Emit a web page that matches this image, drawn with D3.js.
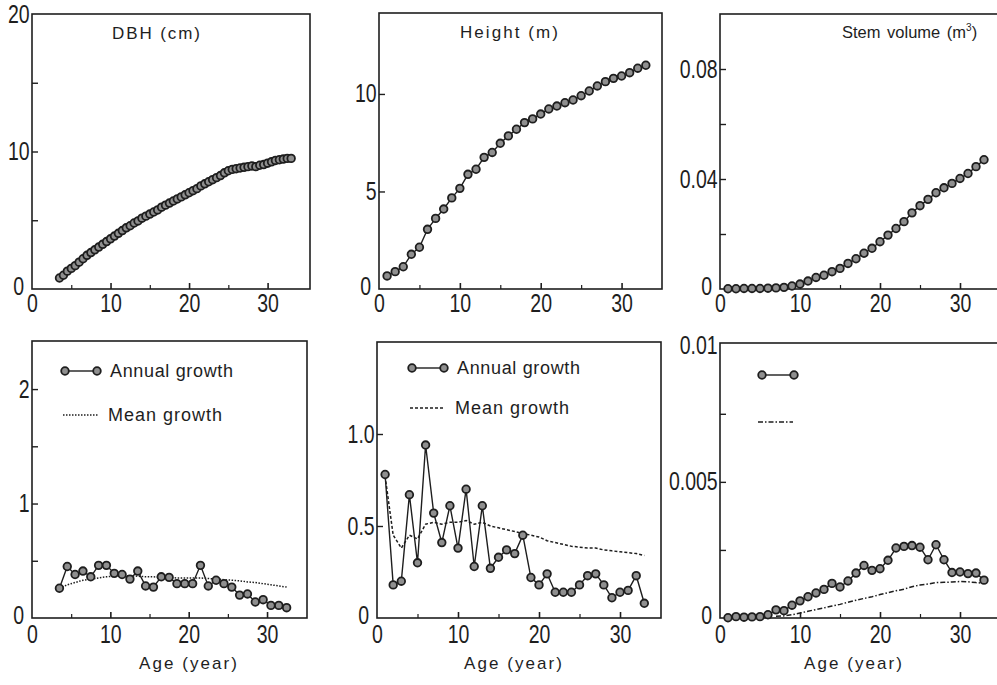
<!DOCTYPE html>
<html>
<head>
<meta charset="utf-8">
<script src="https://cdn.jsdelivr.net/npm/d3@7"></script>
<style>
body { margin: 0; background: #fff; }
</style>
</head>
<body>
<svg id="chart" width="997" height="685"></svg>
<script>
// ---- data ----
var years = [1,2,3,4,5,6,7,8,9,10,11,12,13,14,15,16,17,18,19,20,21,22,23,24,25,26,27,28,29,30,31,32,33];

// DBH (cm), measured every half year
var dbhAges = [3.5,4,4.5,5,5.5,6,6.5,7,7.5,8,8.5,9,9.5,10,10.5,11,11.5,12,12.5,13,13.5,14,14.5,15,15.5,16,16.5,17,17.5,18,
               18.5,19,19.5,20,20.5,21,21.5,22,22.5,23,23.5,24,24.5,25,25.5,26,26.5,27,27.5,28,28.5,29,29.5,30,30.5,31,31.5,32,32.5,33];
var dbhValues = [0.8,1.0,1.3,1.5,1.7,1.95,2.2,2.45,2.65,2.85,3.05,3.25,3.45,3.65,3.85,4.05,4.25,4.45,4.6,4.8,4.95,5.15,5.3,5.45,5.6,5.75,5.95,6.1,6.25,6.4,
                 6.55,6.7,6.85,7.0,7.15,7.3,7.5,7.65,7.8,7.95,8.1,8.25,8.45,8.6,8.7,8.75,8.8,8.85,8.9,8.95,8.9,9.0,9.05,9.15,9.25,9.35,9.4,9.45,9.5,9.5];

// height (m)
var heightValues = [0.67,0.89,1.14,1.78,2.14,3.06,3.62,4.1,4.67,5.16,5.88,6.14,6.75,7.0,7.47,7.85,8.19,8.53,8.72,8.97,9.23,9.38,9.55,9.69,9.91,10.15,10.41,10.63,10.8,10.92,11.09,11.32,11.47];

// stem volume (m3)
var volumeValues = [0.0001,0.0001,0.0002,0.0002,0.0002,0.0003,0.0004,0.0006,0.0011,0.0018,0.0029,0.0042,0.005,0.0063,0.0075,0.0093,0.011,0.013,0.0148,0.0172,0.0196,0.022,0.0245,0.0277,0.0303,0.0326,0.035,0.0368,0.0384,0.0402,0.042,0.0445,0.047];

// DBH growth
var dbhGrowthAges = [3.5,4.5,5.5,6.5,7.5,8.5,9.5,10.5,11.5,12.5,13.5,14.5,15.5,16.5,17.5,18.5,19.5,20.5,21.5,22.5,23.5,24.5,25.5,26.5,27.5,28.5,29.5,30.5,31.5,32.5];
var dbhAnnual = [0.26,0.45,0.38,0.41,0.36,0.46,0.46,0.39,0.38,0.34,0.41,0.28,0.27,0.36,0.355,0.30,0.30,0.30,0.46,0.28,0.33,0.30,0.27,0.20,0.21,0.14,0.16,0.11,0.11,0.09];
var dbhMean = [0.26,0.29,0.31,0.33,0.34,0.35,0.36,0.365,0.37,0.37,0.365,0.36,0.36,0.355,0.355,0.35,0.35,0.35,0.35,0.345,0.34,0.335,0.33,0.325,0.315,0.31,0.30,0.29,0.28,0.27];

// height growth
var heightAnnual = [0.78,0.18,0.20,0.67,0.30,0.94,0.57,0.41,0.61,0.38,0.70,0.28,0.61,0.27,0.33,0.37,0.35,0.45,0.22,0.18,0.24,0.14,0.14,0.14,0.18,0.23,0.24,0.18,0.11,0.14,0.15,0.23,0.08];
var heightMean = [0.77,0.45,0.38,0.45,0.43,0.51,0.52,0.51,0.52,0.52,0.53,0.51,0.52,0.50,0.49,0.48,0.47,0.46,0.45,0.44,0.42,0.41,0.40,0.39,0.385,0.38,0.38,0.37,0.365,0.36,0.355,0.35,0.34];

// volume growth
var volumeAnnual = [0.00001,0.00005,0.00003,0.00004,0.00005,0.00012,0.0003,0.00027,0.00047,0.00063,0.00078,0.00092,0.00105,0.00127,0.00114,0.00136,0.00165,
                    0.00193,0.00175,0.00181,0.00212,0.00257,0.00263,0.00266,0.0026,0.00214,0.00269,0.00214,0.00167,0.00169,0.00163,0.00165,0.00139];
var volumeMeanAges = [7,8,9,10,11,12,13,14,15,16,17,18,19,20,21,22,23,24,25,26,27,28,29,30,31,32,33];
var volumeMean = [0.00006,0.00008,0.00012,0.00018,0.00025,0.00031,0.00037,0.00044,0.0005,0.00058,0.00065,0.00072,0.00078,0.00086,0.00093,0.001,0.00106,
                  0.00115,0.00121,0.00125,0.0013,0.00131,0.00132,0.00134,0.00133,0.0013,0.00128];

// ticks
var xLabelTicks = [0, 10, 20, 30];
var xAllTicks = [5, 10, 15, 20, 25, 30];

var textFont = '"Liberation Sans", Arial, sans-serif';
var ink = "#1e1e1e";

var svg = d3.select("#chart");

function zip(a, b) { return a.map(function (v, i) { return [v, b[i]]; }); }

// tall narrow digits like the original typeface
function narrowLabels(sel) {
    sel.select(".domain").remove();
    sel.attr("font-family", textFont).attr("font-size", 25);
    sel.selectAll("text").attr("fill", ink).attr("transform", "scale(0.78,1)");
}

function drawPanel(p) {
    var x = d3.scaleLinear().domain(p.xDomain).range([p.l, p.r]);
    var y = d3.scaleLinear().domain(p.yDomain).range([p.b, p.t]);
    var g = svg.append("g");

    // frame
    g.append("rect")
        .attr("x", p.l).attr("y", p.t)
        .attr("width", p.r - p.l).attr("height", p.b - p.t)
        .attr("fill", "none").attr("stroke", ink).attr("stroke-width", 1.6);

    // inward ticks on bottom
    var xt = g.append("g").attr("transform", "translate(0," + p.b + ")")
        .call(d3.axisTop(x).tickValues(xAllTicks).tickSize(5).tickFormat(""));
    xt.select(".domain").remove();
    xt.selectAll("line").attr("stroke", ink).attr("stroke-width", function (d) { return d % 10 === 0 ? 1.6 : 1.2; })
        .attr("y2", function (d) { return d % 10 === 0 ? -6 : -4; });

    // inward ticks on left
    var yt = g.append("g").attr("transform", "translate(" + p.l + ",0)")
        .call(d3.axisRight(y).tickValues(p.yTicks).tickSize(6).tickFormat(""));
    yt.select(".domain").remove();
    yt.selectAll("line").attr("stroke", ink).attr("stroke-width", 1.4);

    // x labels
    g.append("g").attr("transform", "translate(0," + p.b + ")")
        .call(d3.axisBottom(x).tickValues(xLabelTicks).tickSize(0).tickPadding(p.xPad))
        .call(narrowLabels);

    // y labels
    var yl = g.append("g").attr("transform", "translate(" + p.l + ",0)")
        .call(d3.axisLeft(y).tickValues(p.yLabels).tickSize(0).tickPadding(3)
            .tickFormat(function (d, i) { return p.yLabelText[i]; }))
        .call(narrowLabels);
    // keep the corner zero clear of the x-axis zero
    yl.selectAll("text").filter(function (d) { return d === 0; }).attr("dx", -7).attr("dy", "0.2em");

    var line = d3.line().x(function (d) { return x(d[0]); }).y(function (d) { return y(d[1]); });

    if (p.mean) {
        g.append("path").datum(p.mean)
            .attr("d", line).attr("fill", "none")
            .attr("stroke", ink).attr("stroke-width", 1.5)
            .attr("stroke-dasharray", p.dash);
    }

    g.append("path").datum(p.series)
        .attr("d", line).attr("fill", "none")
        .attr("stroke", ink).attr("stroke-width", 1.4);

    g.selectAll("circle.pt").data(p.series).enter().append("circle")
        .attr("class", "pt")
        .attr("cx", function (d) { return x(d[0]); })
        .attr("cy", function (d) { return y(d[1]); })
        .attr("r", 3.8)
        .attr("fill", "#8f8f8f").attr("stroke", ink).attr("stroke-width", 1.8);

    return g;
}

function label(g, xp, yp, str, len, size) {
    var t = g.append("text").attr("x", xp).attr("y", yp).text(str)
        .attr("font-family", textFont).attr("font-size", size).attr("fill", ink);
    if (len) t.attr("textLength", len).attr("lengthAdjust", "spacing");
    return t;
}

function legend(g, lx, ly, mx, my, dash, labels) {
    g.append("line").attr("x1", lx).attr("x2", lx + 32).attr("y1", ly).attr("y2", ly)
        .attr("stroke", ink).attr("stroke-width", 1.4);
    [lx, lx + 32].forEach(function (cx) {
        g.append("circle").attr("cx", cx).attr("cy", ly).attr("r", 3.8)
            .attr("fill", "#8f8f8f").attr("stroke", ink).attr("stroke-width", 1.8);
    });
    g.append("line").attr("x1", mx).attr("x2", mx + 35).attr("y1", my).attr("y2", my)
        .attr("stroke", ink).attr("stroke-width", 1.5).attr("stroke-dasharray", dash);
    if (labels) {
        label(g, lx + 45, ly + 6, "Annual growth", 123, 18);
        label(g, mx + 45, my + 6, "Mean growth", 114, 18);
    }
}

// top row
drawPanel({
    l: 32, r: 310, t: 14, b: 289, xDomain: [0, 35.4], yDomain: [0, 20], xPad: 5,
    yTicks: [5, 10, 15], yLabels: [0, 10, 20], yLabelText: ["0", "10", "20"],
    series: zip(dbhAges, dbhValues)
});
drawPanel({
    l: 379, r: 662, t: 13, b: 289, xDomain: [0, 35], yDomain: [0, 14.15], xPad: 5,
    yTicks: [5, 10], yLabels: [0, 5, 10], yLabelText: ["0", "5", "10"],
    series: zip(years, heightValues)
});
drawPanel({
    l: 720, r: 1000, t: 14, b: 289, xDomain: [0, 35], yDomain: [0, 0.1], xPad: 5,
    yTicks: [0.02, 0.04, 0.06, 0.08], yLabels: [0, 0.04, 0.08], yLabelText: ["0", "0.04", "0.08"],
    series: zip(years, volumeValues)
});

// bottom row
var p4 = drawPanel({
    l: 32, r: 307, t: 341, b: 618, xDomain: [0, 35.1], yDomain: [0, 2.42], xPad: 7,
    yTicks: [0.5, 1, 1.5, 2], yLabels: [0, 1, 2], yLabelText: ["0", "1", "2"],
    series: zip(dbhGrowthAges, dbhAnnual), mean: zip(dbhGrowthAges, dbhMean), dash: "1.5,1.5"
});
var p5 = drawPanel({
    l: 377, r: 661, t: 342, b: 618, xDomain: [0, 35.06], yDomain: [0, 1.5], xPad: 7,
    yTicks: [0.5, 1.0], yLabels: [0, 0.5, 1.0], yLabelText: ["0", "0.5", "1.0"],
    series: zip(years, heightAnnual), mean: zip(years, heightMean), dash: "3,2"
});
var p6 = drawPanel({
    l: 720, r: 1000, t: 343, b: 618, xDomain: [0, 35], yDomain: [0, 0.0101], xPad: 7,
    yTicks: [0.0025, 0.005, 0.0075], yLabels: [0, 0.005, 0.01], yLabelText: ["0", "0.005", "0.01"],
    series: zip(years, volumeAnnual), mean: zip(volumeMeanAges, volumeMean), dash: "5,2,1.5,2"
});

legend(p4, 65, 371, 63, 415, "1.5,1.5", true);
legend(p5, 412, 368, 410, 408, "3,2", true);
legend(p6, 762, 375, 758, 422, "5,2,1.5,2", false);

// panel titles
label(svg, 112, 39, "DBH (cm)", 88, 17);
label(svg, 460, 38, "Height (m)", 98, 17);
var sv = label(svg, 842, 38, "Stem volume (m", null, 16.5).attr("word-spacing", 2);
sv.append("tspan").attr("font-size", 10).attr("dy", -7).text("3");
sv.append("tspan").attr("dy", 7).text(")");

[188, 513, 853].forEach(function (cx) {
    label(svg, cx - 49, 669, "Age (year)", 98, 17);
});
</script>
</body>
</html>
